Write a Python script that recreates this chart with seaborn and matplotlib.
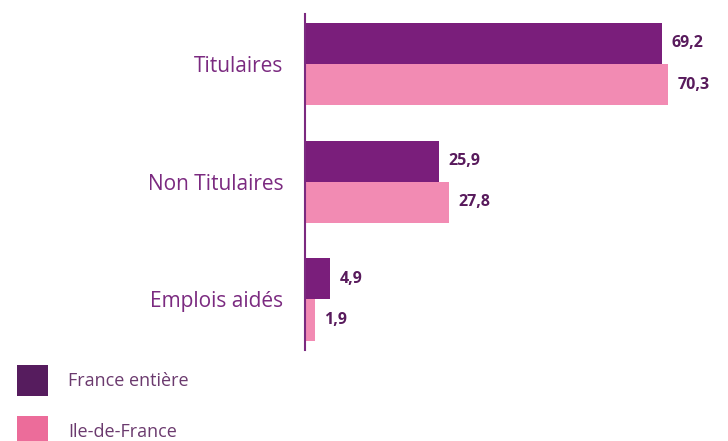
import matplotlib
matplotlib.use("Agg")
import matplotlib.pyplot as plt
from matplotlib.patches import Patch
import seaborn as sns
import pandas as pd

# ---- données ----
categories = ["Titulaires", "Non Titulaires", "Emplois aidés"]
france_entiere = [69.2, 25.9, 4.9]
ile_de_france = [70.3, 27.8, 1.9]
series_names = ["France entière", "Ile-de-France"]

bar_colors = ["#7A1E7B", "#F28BB3"]
legend_colors = ["#561C5E", "#EC6C9A"]
label_color = "#7B2A80"
value_color = "#581A5C"

df = pd.DataFrame({
    "categorie": categories * 2,
    "serie": [series_names[0]] * 3 + [series_names[1]] * 3,
    "valeur": france_entiere + ile_de_france,
})

sns.set_theme(style="white")
plt.rcParams["font.family"] = ["Open Sans", "DejaVu Sans"]

fig = plt.figure(figsize=(7.28, 4.41), dpi=100)
ax = fig.add_axes([305 / 728, 1 - 350 / 441, (718 - 305) / 728, 336 / 441])

sns.barplot(data=df, y="categorie", x="valeur", hue="serie", orient="h",
            palette=bar_colors, width=0.7, saturation=1, linewidth=0,
            ax=ax, legend=False)

# étiquettes de valeurs
for container in ax.containers:
    ax.bar_label(container, labels=[f"{v:.1f}".replace(".", ",") for v in container.datavalues],
                 padding=7, color=value_color, fontsize=11.5, fontweight="bold")

ax.set_xlim(0, 80)
ax.set_ylim(2.43, -0.425)
ax.set_xlabel("")
ax.set_ylabel("")
ax.set_xticks([])
ax.tick_params(axis="y", length=0, pad=15.5, labelsize=15, labelcolor=label_color)
for s in ["top", "right", "bottom"]:
    ax.spines[s].set_visible(False)
ax.spines["left"].set_color("#7B2A80")
ax.spines["left"].set_linewidth(1.5)

# légende
handles = [Patch(facecolor=c, edgecolor="none") for c in legend_colors]
fig.legend(handles, series_names, loc="upper left",
           bbox_to_anchor=(17 / 728, 1 - 365 / 441), frameon=False,
           borderpad=0, borderaxespad=0, handlelength=1.72, handleheight=2.25,
           handletextpad=1.1, labelspacing=1.1, fontsize=13,
           labelcolor="#6B3A6E")

fig.savefig("out.png", dpi=100)
